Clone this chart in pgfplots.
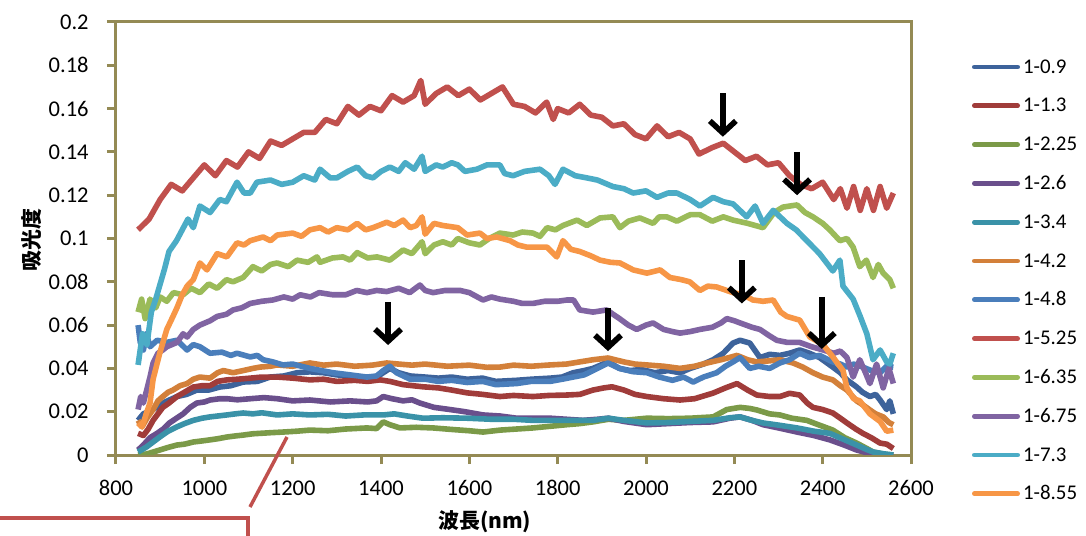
\documentclass[border=0pt]{standalone}
\usepackage{fontspec}
\setmainfont{Carlito}
\newfontfamily\cjk{Noto Sans CJK JP}
\usepackage{pgfplots}
\pgfplotsset{compat=1.18}
\usetikzlibrary{arrows.meta}

\definecolor{axolive}{RGB}{148,138,84}
\definecolor{cA}{HTML}{3D639B}
\definecolor{cB}{HTML}{A03C3A}
\definecolor{cC}{HTML}{7B9A48}
\definecolor{cD}{HTML}{6A4F8C}
\definecolor{cE}{HTML}{3A92A8}
\definecolor{cF}{HTML}{D3803A}
\definecolor{cG}{HTML}{4A7EBB}
\definecolor{cH}{HTML}{C0504D}
\definecolor{cI}{HTML}{9BBB59}
\definecolor{cJ}{HTML}{8064A2}
\definecolor{cK}{HTML}{4BACC6}
\definecolor{cL}{HTML}{F79646}

\begin{document}
\begin{tikzpicture}
\path[use as bounding box] (-58bp,-40.5bp) rectangle (485bp,227.5bp);
\begin{axis}[
  scale only axis, width=397.5bp, height=216.5bp,
  xmin=800, xmax=2600, ymin=0, ymax=0.2,
  xtick={800,1000,...,2600},
  xticklabels={800,1000,1200,1400,1600,1800,2000,2200,2400,2600},
  ytick={0,0.02,...,0.2},
  yticklabels={0,0.02,0.04,0.06,0.08,0.1,0.12,0.14,0.16,0.18,0.2},
  /pgf/number format/assume math mode=true,
  axis line style={axolive, line width=1.5bp},
  tick style={axolive, line width=1.5bp},
  tick align=outside, major tick length=4.5bp,
  xtick pos=bottom, ytick pos=left,
  ticklabel style={font=\fontsize{11.3}{13}\selectfont, inner sep=0pt},
  yticklabel style={anchor=east, xshift=-9bp},
  xticklabel style={anchor=north, yshift=-8bp},
  every axis x label/.style={at={(axis description cs:0.464,0)}, anchor=center, yshift=-33.5bp},
  every axis y label/.style={at={(axis description cs:-0.1057,0.497)}, anchor=center, rotate=90},
  xlabel={\cjk\bfseries 波長(nm)},
  ylabel={\cjk\bfseries 吸光度},
  label style={font=\fontsize{10.5}{12}\selectfont},
  no markers,
  every axis plot/.append style={line width=2.8bp, line join=round},
  legend cell align=left,
  legend image code/.code={\draw[#1, line width=2.4bp, line cap=round] (1.2bp,0bp) -- (22.8bp,0bp);},
  legend style={draw=none, fill=none, at={(1,1)}, anchor=north west,
    xshift=30.5bp, yshift=-18bp, inner sep=0pt, outer sep=0pt,
    font=\fontsize{10.5}{12}\selectfont, row sep=10.4bp, column sep=1.5bp,
    nodes={inner sep=0pt, text height=7.5bp, text depth=1.5bp}},
]
% 1-0.9
\addplot[cA] coordinates {(850,0.016)(862,0.019)(884,0.021)(906,0.024)(938,0.027)(960,0.028)(983,0.030)(1010,0.030)(1035,0.0314)(1060,0.032)(1088,0.0337)(1120,0.034)(1149,0.036)(1180,0.0365)(1210,0.038)(1239,0.0384)(1270,0.038)(1300,0.037)(1340,0.0365)(1368,0.0355)(1390,0.036)(1405,0.038)(1420,0.040)(1440,0.038)(1466,0.0365)(1500,0.036)(1530,0.0355)(1560,0.036)(1595,0.035)(1630,0.0355)(1660,0.034)(1707,0.0345)(1740,0.035)(1783,0.0355)(1810,0.036)(1835,0.038)(1860,0.039)(1880,0.040)(1914,0.043)(1940,0.040)(1964,0.039)(1990,0.0395)(2020,0.038)(2050,0.039)(2077,0.038)(2100,0.040)(2130,0.042)(2152,0.044)(2175,0.047)(2197,0.0517)(2213,0.053)(2235,0.0517)(2258,0.045)(2280,0.0465)(2303,0.046)(2325,0.047)(2348,0.0485)(2370,0.047)(2393,0.045)(2423,0.0406)(2440,0.038)(2455,0.0347)(2477,0.0314)(2490,0.029)(2507,0.027)(2520,0.028)(2530,0.0254)(2545,0.021)(2552,0.025)(2560,0.019)};
\addlegendentry{1-0.9}
% 1-1.3
\addplot[cB] coordinates {(850,0.010)(862,0.009)(873,0.012)(884,0.016)(895,0.019)(906,0.022)(920,0.024)(938,0.027)(955,0.029)(975,0.0314)(995,0.032)(1013,0.032)(1030,0.034)(1051,0.0347)(1075,0.035)(1104,0.0355)(1130,0.036)(1165,0.036)(1200,0.0355)(1239,0.0347)(1270,0.035)(1300,0.034)(1340,0.0345)(1370,0.034)(1398,0.0347)(1420,0.034)(1450,0.0325)(1495,0.0315)(1530,0.031)(1560,0.030)(1595,0.0287)(1630,0.028)(1669,0.027)(1700,0.0275)(1744,0.027)(1780,0.0275)(1821,0.0277)(1850,0.028)(1880,0.030)(1905,0.031)(1923,0.0315)(1950,0.030)(1975,0.028)(2002,0.027)(2040,0.026)(2077,0.0254)(2110,0.026)(2152,0.0286)(2180,0.031)(2206,0.033)(2230,0.030)(2251,0.0277)(2280,0.027)(2303,0.027)(2325,0.0285)(2348,0.0277)(2365,0.024)(2378,0.022)(2400,0.021)(2423,0.0194)(2440,0.017)(2455,0.0148)(2475,0.012)(2491,0.010)(2510,0.008)(2530,0.0055)(2545,0.005)(2560,0.003)};
\addlegendentry{1-1.3}
% 1-2.25
\addplot[cC] coordinates {(850,0)(870,0.0005)(899,0.0023)(918,0.0035)(938,0.0046)(955,0.005)(975,0.006)(995,0.0065)(1013,0.007)(1030,0.0075)(1051,0.0083)(1070,0.0088)(1088,0.0092)(1110,0.0098)(1126,0.010)(1150,0.0103)(1178,0.0106)(1210,0.011)(1239,0.0115)(1280,0.0112)(1320,0.012)(1368,0.0125)(1390,0.0122)(1405,0.0153)(1420,0.014)(1443,0.0125)(1480,0.0128)(1518,0.0125)(1560,0.0118)(1600,0.0112)(1631,0.0106)(1670,0.0115)(1707,0.012)(1744,0.0125)(1780,0.0132)(1821,0.014)(1850,0.0145)(1880,0.0153)(1915,0.0165)(1950,0.016)(2002,0.017)(2050,0.0168)(2100,0.017)(2152,0.0176)(2183,0.021)(2213,0.022)(2235,0.0215)(2251,0.0208)(2280,0.019)(2303,0.0185)(2330,0.017)(2364,0.016)(2390,0.014)(2423,0.0115)(2450,0.008)(2477,0.0055)(2500,0.003)(2514,0.0014)(2540,0.0003)(2560,0)};
\addlegendentry{1-2.25}
% 1-2.6
\addplot[cD] coordinates {(850,0.0023)(862,0.0046)(877,0.008)(893,0.010)(907,0.012)(921,0.0148)(937,0.017)(952,0.019)(968,0.022)(983,0.024)(1000,0.0245)(1013,0.0254)(1035,0.026)(1051,0.026)(1075,0.0255)(1104,0.026)(1135,0.0265)(1165,0.026)(1200,0.025)(1239,0.0254)(1285,0.0245)(1330,0.025)(1370,0.0245)(1390,0.025)(1405,0.027)(1425,0.026)(1450,0.025)(1470,0.0255)(1488,0.024)(1520,0.022)(1556,0.021)(1590,0.020)(1631,0.0185)(1670,0.018)(1707,0.017)(1745,0.017)(1783,0.017)(1820,0.0165)(1857,0.016)(1890,0.0165)(1915,0.017)(1950,0.0155)(2002,0.014)(2050,0.0145)(2100,0.015)(2152,0.0153)(2190,0.017)(2213,0.0176)(2240,0.016)(2265,0.014)(2300,0.0125)(2342,0.0106)(2380,0.009)(2416,0.007)(2450,0.0045)(2477,0.0023)(2500,0.001)(2514,0)(2560,0)};
\addlegendentry{1-2.6}
% 1-3.4
\addplot[cE] coordinates {(850,0.0014)(869,0.0037)(884,0.006)(899,0.0083)(918,0.011)(938,0.013)(955,0.0145)(975,0.016)(995,0.017)(1013,0.0176)(1030,0.018)(1051,0.0185)(1070,0.019)(1088,0.0194)(1110,0.019)(1130,0.0195)(1165,0.0185)(1200,0.019)(1239,0.0185)(1280,0.0188)(1320,0.018)(1360,0.0185)(1405,0.0185)(1430,0.019)(1460,0.018)(1495,0.017)(1540,0.0172)(1595,0.017)(1650,0.0165)(1700,0.0165)(1744,0.016)(1800,0.016)(1850,0.016)(1880,0.016)(1915,0.017)(1950,0.016)(2002,0.0148)(2050,0.015)(2100,0.0155)(2152,0.016)(2190,0.0172)(2213,0.0176)(2240,0.016)(2265,0.0148)(2300,0.0138)(2342,0.0125)(2380,0.011)(2416,0.010)(2450,0.007)(2477,0.0046)(2500,0.0025)(2514,0.0014)(2540,0.0005)(2560,0)};
\addlegendentry{1-3.4}
% 1-4.2
\addplot[cF] coordinates {(850,0.016)(859,0.013)(870,0.017)(884,0.021)(895,0.025)(906,0.027)(918,0.029)(929,0.030)(945,0.032)(961,0.033)(975,0.035)(990,0.036)(1013,0.0355)(1030,0.038)(1043,0.039)(1065,0.038)(1088,0.039)(1110,0.040)(1126,0.0406)(1150,0.041)(1165,0.0416)(1200,0.041)(1239,0.0425)(1270,0.0415)(1300,0.042)(1340,0.041)(1380,0.0415)(1413,0.0425)(1440,0.042)(1470,0.0415)(1500,0.042)(1550,0.041)(1600,0.0415)(1640,0.0405)(1669,0.0406)(1700,0.0415)(1740,0.041)(1783,0.0416)(1820,0.042)(1850,0.043)(1880,0.044)(1914,0.0448)(1950,0.043)(1975,0.042)(2002,0.0416)(2040,0.041)(2077,0.040)(2110,0.041)(2138,0.0425)(2170,0.044)(2206,0.046)(2230,0.044)(2251,0.043)(2280,0.0435)(2303,0.044)(2333,0.0425)(2355,0.0406)(2378,0.038)(2400,0.036)(2423,0.0347)(2440,0.032)(2455,0.030)(2477,0.025)(2492,0.023)(2507,0.0208)(2520,0.019)(2537,0.0176)(2550,0.015)(2560,0.014)};
\addlegendentry{1-4.2}
% 1-4.8
\addplot[cG] coordinates {(850,0.060)(855,0.052)(862,0.0485)(869,0.056)(877,0.050)(893,0.053)(915,0.052)(938,0.053)(961,0.0485)(975,0.051)(990,0.050)(1013,0.047)(1040,0.0475)(1060,0.046)(1074,0.047)(1104,0.0453)(1120,0.046)(1133,0.044)(1155,0.043)(1178,0.0416)(1200,0.042)(1239,0.040)(1265,0.039)(1291,0.038)(1330,0.037)(1368,0.036)(1390,0.0365)(1405,0.039)(1420,0.041)(1435,0.038)(1466,0.035)(1500,0.035)(1530,0.034)(1560,0.0345)(1595,0.0335)(1630,0.034)(1660,0.0325)(1707,0.033)(1740,0.034)(1783,0.034)(1810,0.035)(1835,0.036)(1860,0.037)(1880,0.039)(1914,0.0425)(1940,0.040)(1970,0.0385)(2002,0.038)(2030,0.036)(2060,0.0345)(2085,0.036)(2107,0.0337)(2130,0.036)(2160,0.038)(2180,0.041)(2197,0.043)(2213,0.045)(2235,0.040)(2255,0.041)(2280,0.040)(2303,0.0425)(2325,0.044)(2348,0.047)(2370,0.045)(2393,0.046)(2423,0.043)(2440,0.042)(2455,0.0406)(2470,0.042)(2491,0.0406)(2510,0.039)(2530,0.038)(2545,0.041)(2560,0.0406)};
\addlegendentry{1-4.8}
% 1-5.25
\addplot[cH] coordinates {(850,0.104)(875,0.109)(900,0.118)(925,0.125)(950,0.122)(975,0.128)(1000,0.134)(1025,0.129)(1050,0.136)(1075,0.133)(1100,0.140)(1125,0.137)(1150,0.145)(1175,0.143)(1200,0.146)(1225,0.149)(1250,0.149)(1275,0.155)(1300,0.153)(1325,0.161)(1350,0.157)(1375,0.161)(1400,0.159)(1425,0.166)(1450,0.163)(1475,0.166)(1490,0.173)(1500,0.162)(1525,0.167)(1550,0.170)(1575,0.166)(1600,0.169)(1625,0.164)(1650,0.167)(1675,0.170)(1700,0.162)(1725,0.161)(1750,0.158)(1775,0.163)(1790,0.155)(1800,0.160)(1825,0.158)(1850,0.162)(1875,0.157)(1900,0.156)(1925,0.152)(1950,0.153)(1975,0.148)(2000,0.146)(2025,0.152)(2050,0.147)(2075,0.149)(2100,0.146)(2120,0.139)(2150,0.142)(2175,0.144)(2200,0.140)(2225,0.136)(2250,0.138)(2275,0.134)(2300,0.135)(2325,0.129)(2350,0.125)(2375,0.123)(2400,0.126)(2425,0.118)(2440,0.123)(2455,0.114)(2470,0.124)(2485,0.113)(2500,0.123)(2515,0.113)(2530,0.124)(2545,0.114)(2560,0.121)};
\addlegendentry{1-5.25}
% 1-6.35
\addplot[cI] coordinates {(850,0.066)(858,0.072)(866,0.063)(877,0.072)(890,0.068)(900,0.073)(915,0.071)(930,0.075)(952,0.074)(970,0.077)(990,0.075)(1010,0.079)(1029,0.077)(1050,0.081)(1065,0.080)(1088,0.082)(1110,0.087)(1130,0.085)(1150,0.088)(1165,0.0887)(1190,0.087)(1210,0.090)(1235,0.089)(1255,0.0915)(1262,0.089)(1290,0.091)(1314,0.0915)(1330,0.090)(1346,0.0935)(1370,0.091)(1391,0.0915)(1420,0.090)(1450,0.0947)(1470,0.093)(1493,0.0985)(1500,0.093)(1520,0.097)(1540,0.0985)(1560,0.097)(1574,0.100)(1600,0.098)(1624,0.097)(1645,0.100)(1669,0.1025)(1699,0.1016)(1720,0.103)(1744,0.1025)(1760,0.101)(1776,0.105)(1795,0.104)(1812,0.106)(1844,0.1085)(1866,0.106)(1896,0.1095)(1925,0.110)(1941,0.105)(1960,0.108)(1986,0.1095)(2016,0.107)(2030,0.110)(2047,0.110)(2070,0.108)(2100,0.111)(2122,0.111)(2150,0.108)(2175,0.110)(2197,0.1085)(2230,0.107)(2265,0.105)(2290,0.112)(2310,0.1145)(2342,0.1155)(2360,0.112)(2378,0.110)(2400,0.107)(2416,0.104)(2439,0.099)(2455,0.100)(2469,0.096)(2484,0.087)(2499,0.090)(2514,0.082)(2526,0.088)(2537,0.084)(2552,0.081)(2560,0.077)};
\addlegendentry{1-6.35}
% 1-6.75
\addplot[cJ] coordinates {(850,0.021)(856,0.027)(862,0.024)(877,0.036)(884,0.0425)(895,0.047)(906,0.0485)(915,0.050)(938,0.052)(952,0.056)(961,0.0545)(975,0.058)(990,0.060)(1013,0.062)(1029,0.064)(1050,0.065)(1065,0.067)(1085,0.068)(1104,0.070)(1130,0.071)(1155,0.0716)(1180,0.073)(1200,0.072)(1217,0.074)(1240,0.073)(1260,0.075)(1291,0.074)(1320,0.074)(1345,0.076)(1368,0.075)(1390,0.076)(1413,0.0755)(1440,0.077)(1465,0.075)(1488,0.0785)(1500,0.076)(1518,0.075)(1545,0.076)(1579,0.076)(1600,0.075)(1631,0.0716)(1650,0.073)(1669,0.072)(1700,0.071)(1720,0.070)(1744,0.070)(1770,0.071)(1800,0.071)(1821,0.0716)(1836,0.0716)(1850,0.067)(1880,0.066)(1911,0.067)(1940,0.063)(1960,0.060)(1979,0.058)(2000,0.060)(2016,0.061)(2040,0.058)(2060,0.057)(2077,0.0563)(2100,0.057)(2122,0.058)(2150,0.059)(2170,0.061)(2183,0.063)(2200,0.062)(2213,0.061)(2240,0.059)(2258,0.058)(2280,0.055)(2296,0.053)(2320,0.052)(2348,0.052)(2375,0.050)(2401,0.0485)(2425,0.047)(2440,0.048)(2455,0.045)(2469,0.036)(2484,0.044)(2497,0.038)(2507,0.033)(2522,0.042)(2537,0.031)(2550,0.040)(2560,0.033)};
\addlegendentry{1-6.75}
% 1-7.3
\addplot[cK] coordinates {(850,0.0416)(860,0.056)(870,0.051)(880,0.066)(890,0.072)(900,0.079)(910,0.086)(920,0.094)(937,0.099)(950,0.104)(963,0.109)(975,0.105)(990,0.115)(1013,0.112)(1035,0.118)(1050,0.117)(1074,0.126)(1090,0.121)(1104,0.121)(1119,0.126)(1150,0.127)(1175,0.125)(1200,0.126)(1225,0.129)(1250,0.127)(1262,0.132)(1285,0.128)(1300,0.128)(1325,0.131)(1346,0.133)(1365,0.129)(1382,0.128)(1400,0.131)(1420,0.133)(1440,0.131)(1455,0.135)(1475,0.132)(1493,0.138)(1500,0.131)(1525,0.134)(1540,0.133)(1560,0.135)(1574,0.134)(1590,0.131)(1617,0.132)(1640,0.134)(1669,0.134)(1680,0.130)(1699,0.129)(1725,0.131)(1760,0.132)(1780,0.129)(1794,0.125)(1812,0.132)(1840,0.129)(1866,0.128)(1890,0.127)(1925,0.124)(1950,0.123)(1971,0.121)(2000,0.122)(2025,0.119)(2050,0.121)(2070,0.121)(2100,0.118)(2122,0.115)(2152,0.119)(2175,0.117)(2197,0.116)(2228,0.110)(2247,0.115)(2265,0.107)(2288,0.113)(2319,0.107)(2340,0.104)(2364,0.099)(2393,0.093)(2423,0.085)(2439,0.090)(2446,0.078)(2469,0.072)(2485,0.064)(2500,0.056)(2514,0.044)(2530,0.0485)(2545,0.043)(2552,0.042)(2560,0.047)};
\addlegendentry{1-7.3}
% 1-8.55
\addplot[cL] coordinates {(850,0.0148)(859,0.013)(870,0.020)(877,0.024)(884,0.035)(899,0.047)(915,0.058)(929,0.064)(938,0.068)(950,0.074)(961,0.078)(975,0.081)(990,0.0887)(1006,0.0855)(1029,0.093)(1051,0.0915)(1074,0.098)(1090,0.097)(1104,0.099)(1133,0.1007)(1150,0.099)(1165,0.1016)(1200,0.1025)(1220,0.101)(1239,0.104)(1262,0.105)(1280,0.103)(1300,0.105)(1325,0.104)(1346,0.107)(1365,0.104)(1382,0.105)(1413,0.1075)(1430,0.106)(1450,0.1085)(1466,0.105)(1480,0.106)(1493,0.110)(1500,0.102)(1520,0.107)(1540,0.106)(1574,0.105)(1595,0.1016)(1624,0.1025)(1640,0.100)(1662,0.1007)(1692,0.099)(1710,0.097)(1730,0.096)(1776,0.096)(1798,0.0915)(1812,0.099)(1830,0.095)(1850,0.094)(1875,0.092)(1896,0.090)(1920,0.089)(1941,0.0887)(1971,0.0855)(2002,0.084)(2032,0.0855)(2054,0.082)(2080,0.081)(2099,0.080)(2122,0.076)(2140,0.078)(2160,0.0776)(2197,0.075)(2220,0.074)(2242,0.0716)(2265,0.071)(2288,0.0716)(2305,0.066)(2319,0.064)(2348,0.0623)(2371,0.0545)(2401,0.051)(2423,0.0453)(2446,0.039)(2455,0.031)(2470,0.026)(2484,0.025)(2507,0.019)(2520,0.017)(2530,0.0155)(2545,0.011)(2560,0.0115)};
\addlegendentry{1-8.55}
% arrows
\draw[black, line width=2.8bp, -{Straight Barb[length=6bp, width=13bp, line width=2.8bp]}] (axis cs:1416,0.0707) -- (axis cs:1416,0.0508);
\draw[black, line width=2.8bp, -{Straight Barb[length=6bp, width=13bp, line width=2.8bp]}] (axis cs:1914,0.068) -- (axis cs:1914,0.048);
\draw[black, line width=2.8bp, -{Straight Barb[length=6bp, width=13bp, line width=2.8bp]}] (axis cs:2174,0.167) -- (axis cs:2174,0.147);
\draw[black, line width=2.8bp, -{Straight Barb[length=6bp, width=13bp, line width=2.8bp]}] (axis cs:2342,0.140) -- (axis cs:2342,0.120);
\draw[black, line width=2.8bp, -{Straight Barb[length=6bp, width=13bp, line width=2.8bp]}] (axis cs:2217,0.090) -- (axis cs:2217,0.070);
\draw[black, line width=2.8bp, -{Straight Barb[length=6bp, width=13bp, line width=2.8bp]}] (axis cs:2398,0.073) -- (axis cs:2398,0.049);
\end{axis}
\draw[cH, line width=1.75bp] (67bp,-26bp) -- (85.5bp,9bp);
\draw[cH, line width=1.75bp] (-60bp,-31.5bp) -- (66bp,-31.5bp) -- (66bp,-42bp);
\end{tikzpicture}
\end{document}
